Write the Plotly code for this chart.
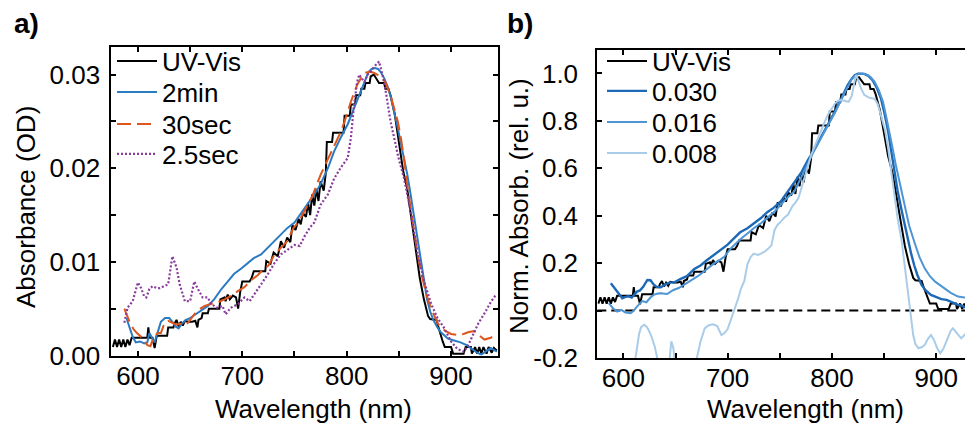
import plotly.graph_objects as go

# ---------------- data: panel a (absorbance, OD) ----------------
uvvis_wl = [576, 578, 580, 582, 584, 586, 588, 590, 592, 594,
            600, 606, 609, 610, 611, 614, 616, 618, 624, 628,
            629, 634, 635, 637, 639, 641, 643, 645, 648, 652,
            655, 657, 658, 661, 662, 667, 668, 678, 679, 683,
            684, 686, 688, 691, 694, 696, 698, 700, 707, 709,
            711, 722, 723, 727, 730, 734, 737, 740, 743, 746,
            748, 751, 754, 756, 758, 761, 763, 765, 767, 769,
            771, 773, 775, 778, 780, 781, 786, 787, 797, 798,
            803, 804, 808, 809, 813, 814, 817, 818, 822, 823,
            826, 828, 831, 836, 837, 840, 842, 846, 850, 854,
            858, 862, 866, 870, 874, 878, 880, 886, 888, 890,
            892, 894, 900, 902, 912, 914, 919, 920, 923, 925,
            927, 929, 931, 934, 936, 939, 941, 944]
uvvis_abs = [0.0009, 0.0017, 0.0009, 0.0017, 0.0009, 0.0017, 0.0009, 0.0017, 0.0011, 0.0019,
             0.0019, 0.0019, 0.0019, 0.0030, 0.0019, 0.0019, 0.0008, 0.0021, 0.0021, 0.0021,
             0.0030, 0.0030, 0.0034, 0.0038, 0.0031, 0.0036, 0.0032, 0.0037, 0.0036, 0.0036,
             0.0037, 0.0030, 0.0038, 0.0040, 0.0045, 0.0045, 0.0050, 0.0050, 0.0060, 0.0062,
             0.0058, 0.0065, 0.0060, 0.0064, 0.0062, 0.0050, 0.0068, 0.0079, 0.0079, 0.0083,
             0.0090, 0.0090, 0.0101, 0.0098, 0.0110, 0.0106, 0.0122, 0.0115, 0.0126, 0.0121,
             0.0139, 0.0134, 0.0146, 0.0140, 0.0152, 0.0148, 0.0163, 0.0150, 0.0172, 0.0160,
             0.0178, 0.0165, 0.0186, 0.0176, 0.0195, 0.0228, 0.0228, 0.0238, 0.0238, 0.0256,
             0.0256, 0.0268, 0.0268, 0.0278, 0.0278, 0.0285, 0.0285, 0.0291, 0.0291, 0.0298,
             0.0300, 0.0296, 0.0291, 0.0291, 0.0285, 0.0285, 0.0278, 0.0258, 0.0228, 0.0198,
             0.0178, 0.0146, 0.0113, 0.0083, 0.0060, 0.0042, 0.0039, 0.0038, 0.0030, 0.0022,
             0.0015, 0.0009, 0.0009, 0.0002, 0.0002, 0.0009, 0.0009, 0.0002, 0.0009, 0.0002,
             0.0009, 0.0002, 0.0009, 0.0002, 0.0009, 0.0003, 0.0008, 0.0005]

min2_wl = [589, 592, 595, 598, 602, 606, 609, 611, 613, 616,
           619, 622, 626, 630, 633, 636, 639, 642, 646, 650,
           654, 658, 662, 667, 673, 680, 686, 692, 699, 705,
           711, 718, 724, 731, 737, 743, 750, 756, 762, 769,
           775, 782, 788, 794, 801, 807, 813, 818, 821, 824,
           827, 830, 833, 836, 839, 842, 845, 849, 852, 855,
           858, 861, 864, 868, 871, 874, 877, 880, 883, 887,
           890, 894, 897, 903, 909, 915, 920, 925, 929, 933,
           938, 941, 944]
min2_abs = [0.0040, 0.0030, 0.0020, 0.0014, 0.0015, 0.0013, 0.0014, 0.0024, 0.0020, 0.0014,
            0.0025, 0.0036, 0.0040, 0.0040, 0.0036, 0.0031, 0.0029, 0.0034, 0.0038, 0.0040,
            0.0043, 0.0046, 0.0049, 0.0053, 0.0060, 0.0071, 0.0079, 0.0087, 0.0093, 0.0099,
            0.0104, 0.0108, 0.0115, 0.0122, 0.0129, 0.0136, 0.0142, 0.0152, 0.0161, 0.0172,
            0.0183, 0.0200, 0.0218, 0.0232, 0.0247, 0.0264, 0.0281, 0.0296, 0.0303, 0.0306,
            0.0307, 0.0306, 0.0302, 0.0296, 0.0288, 0.0277, 0.0263, 0.0243, 0.0226, 0.0210,
            0.0194, 0.0174, 0.0152, 0.0125, 0.0102, 0.0080, 0.0060, 0.0047, 0.0038, 0.0030,
            0.0025, 0.0021, 0.0018, 0.0016, 0.0014, 0.0011, 0.0007, 0.0003, 0.0001, 0.0004,
            0.0008, 0.0006, 0.0004]

sec30_wl = [587, 590, 593, 596, 599, 603, 606, 609, 612, 615,
            619, 622, 625, 629, 633, 637, 641, 645, 648, 651,
            654, 657, 664, 670, 677, 683, 690, 696, 702, 709,
            715, 720, 725, 731, 737, 743, 749, 754, 760, 767,
            775, 782, 788, 794, 798, 804, 810, 815, 818, 822,
            826, 832, 837, 842, 846, 849, 852, 855, 858, 861,
            865, 868, 872, 877, 881, 884, 887, 890, 895, 900,
            906, 912, 917, 922, 927, 932, 938, 944]
sec30_abs = [0.0050, 0.0042, 0.0033, 0.0028, 0.0024, 0.0020, 0.0015, 0.0011, 0.0010, 0.0020,
             0.0024, 0.0024, 0.0033, 0.0037, 0.0035, 0.0033, 0.0034, 0.0033, 0.0035, 0.0040,
             0.0044, 0.0048, 0.0053, 0.0055, 0.0057, 0.0060, 0.0064, 0.0069, 0.0073, 0.0081,
             0.0086, 0.0092, 0.0096, 0.0108, 0.0115, 0.0122, 0.0136, 0.0143, 0.0155, 0.0170,
             0.0193, 0.0210, 0.0225, 0.0238, 0.0250, 0.0271, 0.0289, 0.0299, 0.0302, 0.0303,
             0.0302, 0.0298, 0.0292, 0.0278, 0.0262, 0.0250, 0.0232, 0.0210, 0.0182, 0.0160,
             0.0128, 0.0108, 0.0085, 0.0063, 0.0050, 0.0042, 0.0035, 0.0030, 0.0026, 0.0023,
             0.0022, 0.0023, 0.0025, 0.0026, 0.0021, 0.0017, 0.0019, 0.0022]

sec25_wl = [587, 590, 595, 600, 603, 606, 608, 611, 614, 618,
            621, 626, 629, 633, 637, 640, 645, 650, 654, 657,
            662, 667, 670, 676, 681, 684, 689, 696, 702, 707,
            711, 718, 724, 731, 737, 744, 750, 755, 760, 765,
            769, 775, 782, 788, 794, 801, 804, 807, 810, 812,
            817, 820, 823, 826, 831, 836, 839, 842, 846, 849,
            855, 862, 868, 875, 881, 887, 893, 900, 906, 912,
            916, 920, 926, 932, 938, 943]
sec25_abs = [0.0035, 0.0051, 0.0058, 0.0078, 0.0072, 0.0063, 0.0062, 0.0071, 0.0074, 0.0072,
             0.0072, 0.0074, 0.0076, 0.0106, 0.0094, 0.0076, 0.0058, 0.0058, 0.0079, 0.0072,
             0.0062, 0.0062, 0.0055, 0.0051, 0.0053, 0.0044, 0.0051, 0.0055, 0.0062, 0.0058,
             0.0065, 0.0076, 0.0086, 0.0099, 0.0108, 0.0113, 0.0118, 0.0117, 0.0128, 0.0137,
             0.0142, 0.0161, 0.0172, 0.0189, 0.0200, 0.0211, 0.0232, 0.0267, 0.0292, 0.0300,
             0.0292, 0.0300, 0.0303, 0.0308, 0.0314, 0.0292, 0.0270, 0.0250, 0.0230, 0.0214,
             0.0189, 0.0150, 0.0108, 0.0076, 0.0055, 0.0040, 0.0030, 0.0015, 0.0007, 0.0004,
             0.0010, 0.0020, 0.0034, 0.0045, 0.0057, 0.0065]

# ---------------- data: panel b (normalised) ----------------
uvvis_norm_factor = 0.0305   # OD used to normalise the UV-Vis spectrum

c030_wl = [588, 591, 594, 597, 599, 602, 605, 608, 611, 613,
           616, 619, 623, 626, 629, 632, 636, 640, 644, 649,
           655, 661, 668, 674, 680, 687, 693, 700, 706, 712,
           719, 725, 732, 738, 744, 751, 757, 764, 771, 777,
           784, 790, 796, 803, 809, 815, 819, 822, 825, 828,
           831, 835, 839, 843, 847, 850, 854, 857, 860, 863,
           867, 870, 873, 876, 879, 882, 886, 890, 895, 900,
           905, 910, 917, 921, 925, 930, 933, 936, 940, 943]
c030_val = [0.115, 0.098, 0.080, 0.060, 0.052, 0.058, 0.060, 0.055, 0.070, 0.080,
            0.085, 0.100, 0.129, 0.128, 0.110, 0.100, 0.098, 0.110, 0.118, 0.119,
            0.134, 0.145, 0.175, 0.190, 0.212, 0.234, 0.255, 0.278, 0.304, 0.330,
            0.347, 0.367, 0.390, 0.415, 0.433, 0.460, 0.498, 0.540, 0.585, 0.635,
            0.685, 0.735, 0.781, 0.840, 0.894, 0.950, 0.978, 0.992, 0.999, 1.000,
            0.998, 0.990, 0.972, 0.940, 0.895, 0.840, 0.755, 0.670, 0.585, 0.505,
            0.420, 0.355, 0.300, 0.240, 0.190, 0.150, 0.108, 0.085, 0.066, 0.058,
            0.048, 0.045, 0.030, 0.024, 0.020, 0.008, 0.003, 0.015, 0.030, 0.035]

c016_wl = [586, 590, 594, 598, 602, 607, 610, 613, 618, 622,
           626, 629, 633, 636, 642, 648, 653, 658, 663, 668,
           673, 677, 682, 687, 692, 697, 703, 708, 713, 719,
           725, 732, 738, 745, 751, 757, 764, 770, 777, 783,
           790, 796, 803, 809, 815, 819, 823, 826, 829, 833,
           837, 841, 845, 849, 852, 855, 858, 861, 864, 867,
           870, 874, 879, 884, 889, 894, 899, 904, 908, 914,
           921, 927, 933, 938, 943]
c016_val = [0.031, 0.010, -0.004, 0.003, -0.008, -0.011, 0.000, 0.017, 0.040, 0.035,
            0.055, 0.066, 0.072, 0.073, 0.070, 0.087, 0.095, 0.108, 0.120, 0.136,
            0.150, 0.164, 0.180, 0.199, 0.212, 0.228, 0.262, 0.285, 0.304, 0.325,
            0.347, 0.368, 0.390, 0.418, 0.446, 0.475, 0.503, 0.560, 0.620, 0.675,
            0.730, 0.780, 0.835, 0.890, 0.945, 0.975, 0.992, 0.999, 1.000, 0.996,
            0.985, 0.965, 0.930, 0.880, 0.820, 0.760, 0.690, 0.620, 0.560, 0.495,
            0.431, 0.360, 0.290, 0.225, 0.178, 0.145, 0.122, 0.105, 0.094, 0.075,
            0.059, 0.055, 0.059, 0.052, 0.045]

c008_wl = [604, 609, 612, 615, 617, 620, 622, 624, 627, 630,
           632, 635, 640, 644, 646, 648, 650, 655, 662, 667,
           670, 674, 678, 682, 686, 690, 694, 697, 700, 703,
           707, 710, 713, 716, 719, 722, 725, 729, 732, 736,
           739, 742, 745, 748, 751, 755, 758, 762, 765, 768,
           771, 774, 777, 780, 784, 787, 790, 793, 796, 800,
           803, 806, 809, 812, 816, 819, 821, 823, 825, 828,
           831, 835, 838, 841, 844, 847, 851, 854, 857, 860,
           863, 867, 870, 873, 876, 878, 880, 883, 886, 889,
           892, 895, 898, 901, 904, 907, 911, 914, 916, 920,
           924, 928, 931, 934, 938, 942]
c008_val = [-0.35, -0.25, -0.19, -0.10, -0.07, -0.06, -0.067, -0.08, -0.11, -0.15,
            -0.19, -0.28, -0.32, -0.22, -0.13, -0.16, -0.25, -0.35, -0.33, -0.26,
            -0.21, -0.13, -0.075, -0.062, -0.058, -0.065, -0.103, -0.095, -0.078, -0.04,
            0.01, 0.05, 0.095, 0.125, 0.195, 0.225, 0.240, 0.235, 0.240, 0.250,
            0.262, 0.275, 0.340, 0.362, 0.375, 0.395, 0.405, 0.440, 0.455, 0.475,
            0.520, 0.560, 0.610, 0.655, 0.700, 0.725, 0.760, 0.795, 0.825, 0.855,
            0.873, 0.885, 0.888, 0.885, 0.880, 0.905, 0.950, 0.992, 0.975, 0.936,
            0.910, 0.899, 0.895, 0.893, 0.870, 0.825, 0.760, 0.683, 0.590, 0.490,
            0.390, 0.290, 0.180, 0.080, -0.030, -0.103, -0.140, -0.159, -0.155, -0.145,
            -0.120, -0.103, -0.125, -0.159, -0.180, -0.160, -0.117, -0.085, -0.075, -0.095,
            -0.117, -0.100, -0.080, -0.075, -0.100, -0.117]

zero_wl = [575, 943]
zero_level = [0.0, 0.0]

xticks = [600, 700, 800, 900]
ya_ticks = [0.00, 0.01, 0.02, 0.03]
yb_ticks = [-0.2, 0.0, 0.2, 0.4, 0.6, 0.8, 1.0]
yb_labels = ["-0.2", "0.0", "0.2", "0.4", "0.6", "0.8", "1.0"]

# ---------------- styling ----------------
FONT = "Liberation Sans, Arial, Helvetica, sans-serif"
FS = 26
BLACK = "#000000"
C_2MIN = "#2a7bc2"
C_30S = "#df561c"
C_25S = "#8a3a9c"
C_030 = "#1d69b6"
C_016 = "#4d95d4"
C_008 = "#a9cce9"

uvvis_b = [v / uvvis_norm_factor for v in uvvis_abs]

fig = go.Figure()

def add(x, y, name, color, dash, legend, xa, ya, width=2.0, showlegend=True):
    fig.add_trace(go.Scatter(x=x, y=y, name=name, mode="lines",
                             line=dict(color=color, width=width, dash=dash),
                             legend=legend, xaxis=xa, yaxis=ya,
                             showlegend=showlegend, hoverinfo="skip"))

# panel a
add(uvvis_wl, uvvis_abs, "UV-Vis", BLACK, "solid", "legend", "x", "y")
add(min2_wl, min2_abs, "2min", C_2MIN, "solid", "legend2", "x", "y")
add(sec30_wl, sec30_abs, "30sec", C_30S, "14px,6px", "legend3", "x", "y")
add(sec25_wl, sec25_abs, "2.5sec", C_25S, "2px,2px", "legend4", "x", "y", width=2.2)

# panel b
add(zero_wl, zero_level, "zero", BLACK, "9px,5px", "legend5", "x2", "y2", showlegend=False)
add(uvvis_wl, uvvis_b, "UV-Vis", BLACK, "solid", "legend5", "x2", "y2")
add(c030_wl, c030_val, "0.030", C_030, "solid", "legend6", "x2", "y2", width=2.4)
add(c016_wl, c016_val, "0.016", C_016, "solid", "legend7", "x2", "y2")
add(c008_wl, c008_val, "0.008", C_008, "solid", "legend8", "x2", "y2")

W, H = 973, 423
def px_x(p):
    return p / W
def px_y(p):
    return 1 - p / H

axis_common = dict(showline=True, linewidth=2, linecolor=BLACK, mirror="ticks",
                   ticks="inside", ticklen=5, tickwidth=2, tickcolor=BLACK,
                   showgrid=False, zeroline=False, automargin=False,
                   tickfont=dict(family=FONT, size=FS, color=BLACK))
minor_x = dict(dtick=50, tick0=600, ticks="inside", ticklen=5, tickwidth=2, tickcolor=BLACK)

fig.update_layout(
    width=W, height=H,
    margin=dict(l=0, r=0, t=0, b=0),
    paper_bgcolor="white", plot_bgcolor="white",
    font=dict(family=FONT, size=FS, color=BLACK),
    xaxis=dict(axis_common, domain=[px_x(103.3), px_x(489.5)], range=[574.5, 944.5],
               tickvals=xticks, anchor="y", ticklabelstandoff=-4, minor=minor_x),
    yaxis=dict(axis_common, domain=[px_y(347.5), px_y(38.5)], range=[0, 0.033],
               tickvals=ya_ticks, tickformat=".2f", anchor="x", ticklabelstandoff=4,
               minor=dict(dtick=0.005, tick0=0, ticks="inside", ticklen=5, tickwidth=2, tickcolor=BLACK)),
    xaxis2=dict(axis_common, domain=[px_x(589.3), 1.0], range=[575, 943],
                tickvals=xticks, anchor="y2", ticklabelstandoff=-4, minor=minor_x),
    yaxis2=dict(axis_common, domain=[px_y(350), px_y(41.7)], range=[-0.2, 1.1],
                tickvals=yb_ticks, ticktext=yb_labels, anchor="x2", ticklabelstandoff=12),
)

def label(text, x, y, size=FS, angle=0, bold=False, xanchor="center"):
    fig.add_annotation(text=f"<b>{text}</b>" if bold else text,
                       x=px_x(x), y=px_y(y), xref="paper", yref="paper",
                       xanchor=xanchor, yanchor="middle", showarrow=False, textangle=angle,
                       font=dict(family=FONT, size=size, color=BLACK))

# axis titles and panel labels
label("Wavelength (nm)", 305, 400.5)
label("Wavelength (nm)", 797, 400.5)
label("Absorbance (OD)", 18, 199, angle=-90)
label("Norm. Absorb. (rel. u.)", 511, 198, angle=-90)
label("a)", 4, 15, size=28, bold=True, xanchor="left")
label("b)", 497, 15, size=28, bold=True, xanchor="left")

leg_style = dict(bgcolor="rgba(0,0,0,0)", borderwidth=0, xanchor="left", yanchor="middle",
                 font=dict(family=FONT, size=FS, color=BLACK), itemwidth=40)
legend_pos = {
    "legend": (104, 53), "legend2": (104, 84), "legend3": (104, 116), "legend4": (104, 146),
    "legend5": (594, 53), "legend6": (594, 83), "legend7": (594, 114), "legend8": (594, 145),
}
for key, (lx, ly) in legend_pos.items():
    fig.update_layout({key: dict(leg_style, x=px_x(lx), y=px_y(ly))})

fig.write_html("out.html")
